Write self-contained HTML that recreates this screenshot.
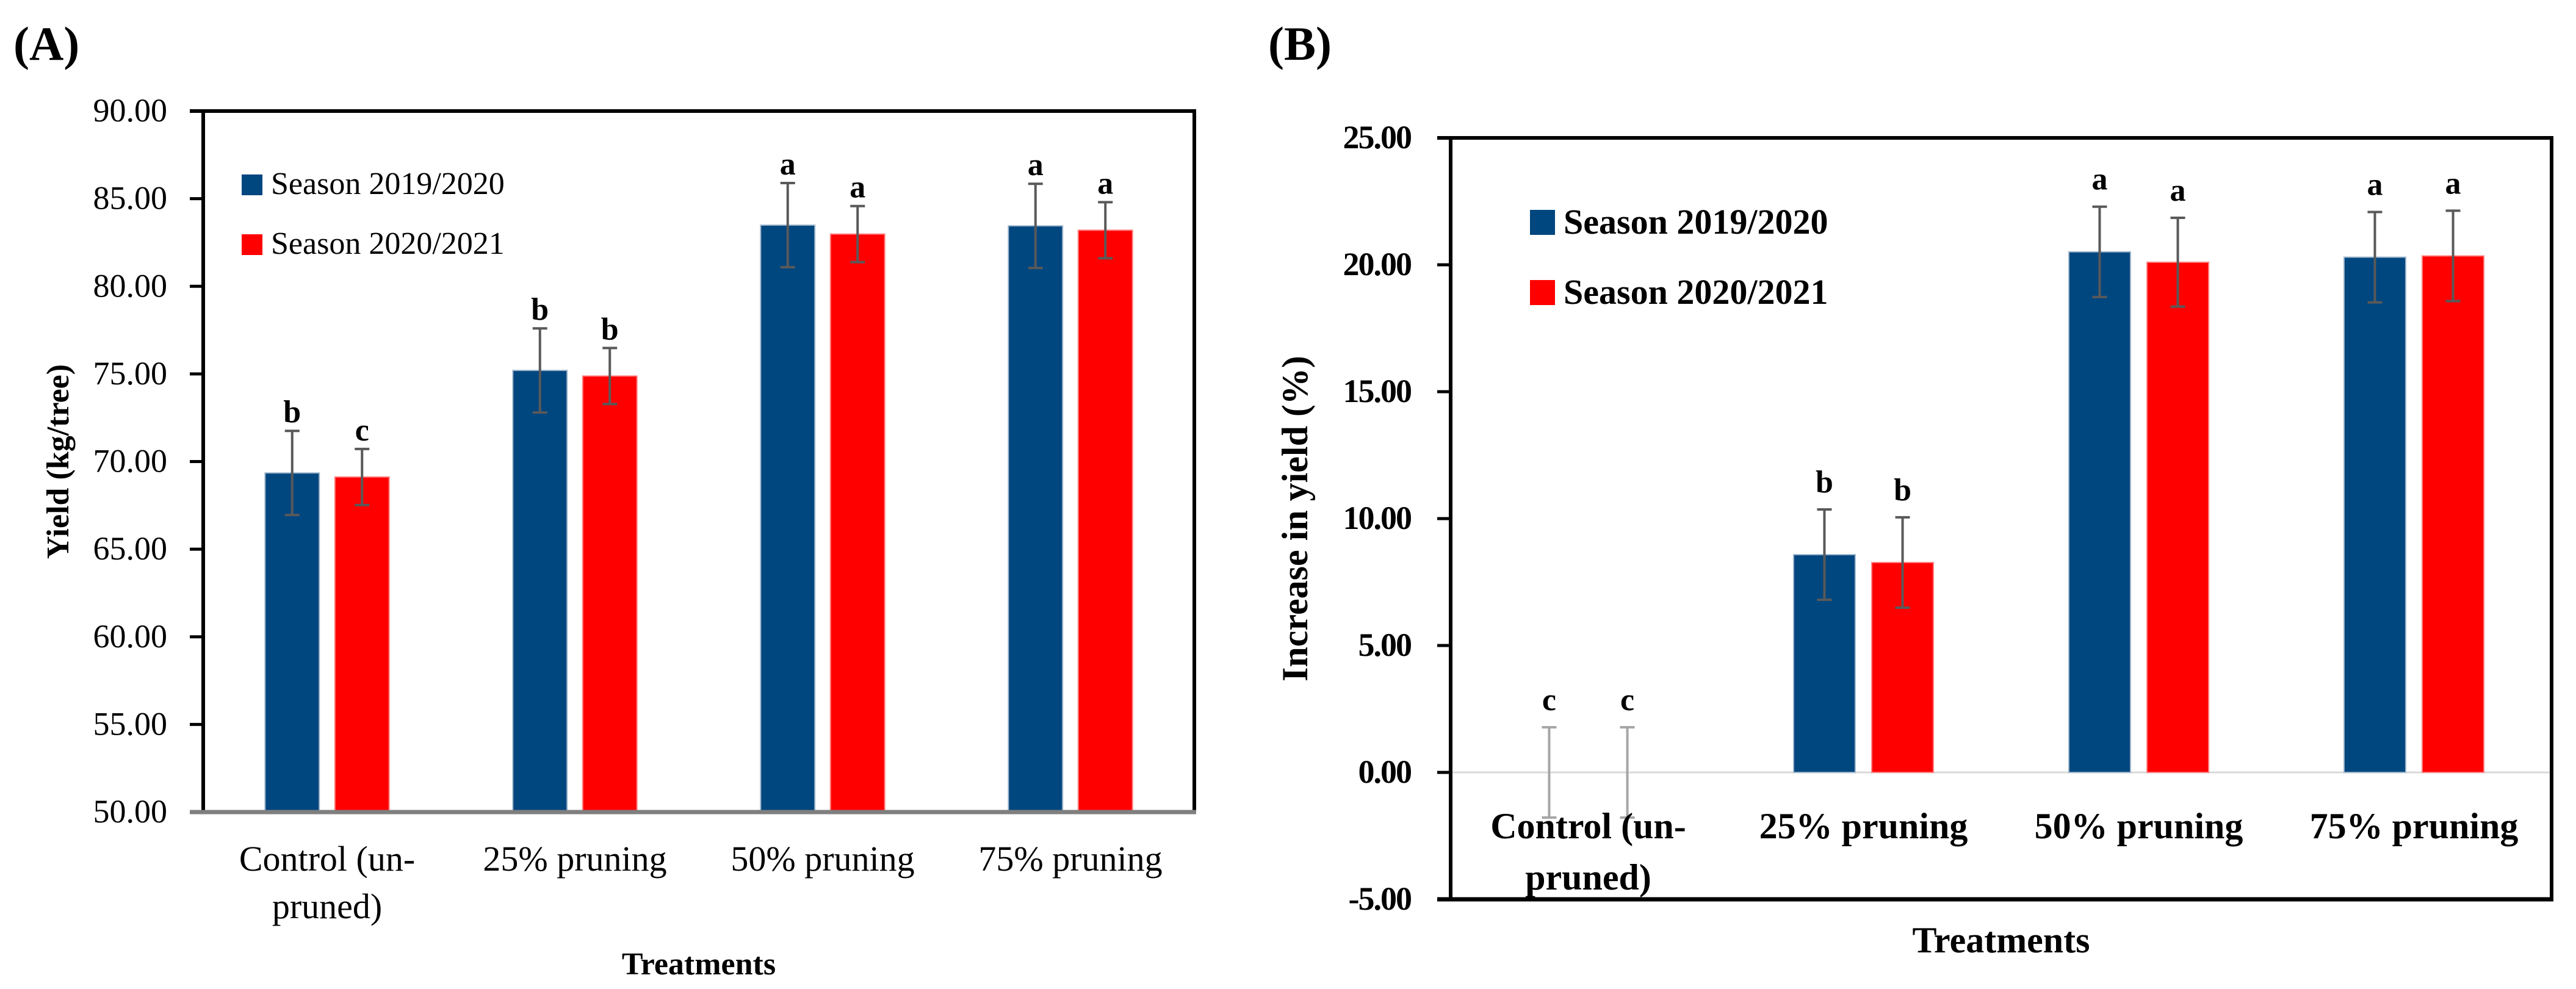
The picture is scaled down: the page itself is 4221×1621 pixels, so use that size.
<!DOCTYPE html>
<html><head><meta charset="utf-8"><style>
html,body{margin:0;padding:0;background:#fff;}
svg{display:block;font-family:"Liberation Serif",serif;}
</style></head><body>
<svg id="fig" width="4221" height="1621" viewBox="0 0 4221 1621" xmlns="http://www.w3.org/2000/svg">
<rect x="0" y="0" width="4221" height="1621" fill="#fff"/>
</svg>
<script>
const categories = ["Control (un-|pruned)", "25% pruning", "50% pruning", "75% pruning"];
const seriesNames = ["Season 2019/2020", "Season 2020/2021"];
const yieldS1 = [69.35, 75.2, 83.49, 83.45];
const yieldS2 = [69.12, 74.88, 82.98, 83.2];
const yieldErrS1 = [2.4, 2.4, 2.4, 2.4];
const yieldErrS2 = [1.6, 1.6, 1.6, 1.6];
const yieldLettersS1 = ["b", "b", "a", "a"];
const yieldLettersS2 = ["c", "b", "a", "a"];
const yieldTicks = [50, 55, 60, 65, 70, 75, 80, 85, 90];
const incS1 = [0, 8.58, 20.51, 20.3];
const incS2 = [0, 8.27, 20.1, 20.35];
const incErrS1 = [1.78, 1.78, 1.78, 1.78];
const incErrS2 = [1.78, 1.78, 1.75, 1.78];
const incLettersS1 = ["c", "b", "a", "a"];
const incLettersS2 = ["c", "b", "a", "a"];
const incTicks = [-5, 0, 5, 10, 15, 20, 25];

const NS = "http://www.w3.org/2000/svg";
const svg = document.getElementById("fig");
function mk(tag, attrs, parent, text) {
  const e = document.createElementNS(NS, tag);
  for (const k in attrs) e.setAttribute(k, attrs[k]);
  if (text !== undefined) e.textContent = text;
  (parent || svg).appendChild(e);
  return e;
}
const COLORS = ["#00467F", "#FF0000"];

function drawChart(cfg) {
  const g = mk("g", {});
  
  
  const {x0, x1, y0, y1, vmin, vmax} = cfg;
  const yScale = v => y1 - (v - vmin) / (vmax - vmin) * (y1 - y0);
  const cw = (x1 - x0) / categories.length;
  const xCenter = i => x0 + cw * (i + 0.5);
  const pl = mk("text", {x: cfg.labelX, y: 98, "font-size": 78, "font-weight": "bold"}, g, cfg.panel);
  
  
  if (cfg.zeroLine) {
    const zl = mk("line", {x1: x0, x2: x1, y1: yScale(0), y2: yScale(0), stroke: "#d9d9d9", "stroke-width": 3}, g);
    
    
  }
  cfg.ticks.forEach(t => {
    const y = yScale(t);
    const tk = mk("line", {x1: x0 - 22, x2: x0, y1: y, y2: y, stroke: "#000", "stroke-width": 5}, g);
    
    
    const tl = mk("text", {x: cfg.tickLabelX, y: y + 17, "text-anchor": "end", "font-size": cfg.tickFont, "font-weight": cfg.tickWeight, "letter-spacing": cfg.tickLS}, g, t.toFixed(2));
    
    
  });
  const series = [cfg.s1, cfg.s2], errs = [cfg.e1, cfg.e2], letters = [cfg.l1, cfg.l2];
  const bw = cw * cfg.barFrac, off = cw * cfg.offFrac;
  categories.forEach((c, i) => {
    for (let s = 0; s < 2; s++) {
      const cx = xCenter(i) + (s === 0 ? -off : off);
      const v = series[s][i];
      const yt = yScale(Math.max(v, cfg.base)), yb = yScale(Math.min(v, cfg.base));
      if (yb - yt > 0.5) {
        const b = mk("rect", {x: cx - bw / 2, y: yt, width: bw, height: yb - yt, fill: COLORS[s], stroke: s === 0 ? "#9fb6cc" : "#ff8080", "stroke-width": 2}, g);
        
        
      }
      const eTop = yScale(v + errs[s][i]), eBot = yScale(v - errs[s][i]);
      const eb = mk("path", {d: `M${cx},${eTop}V${eBot}M${cx - 12},${eTop}H${cx + 12}M${cx - 12},${eBot}H${cx + 12}`, stroke: cfg.zeroLine && v === 0 ? "#a6a6a6" : "#595959", "stroke-width": 4, fill: "none"}, g);
      
      
      const lt = mk("text", {x: cx, y: eTop - cfg.letterGap, "text-anchor": "middle", "font-size": 52, "font-weight": "bold"}, g, letters[s][i]);
      
      
    }
    const parts = c.split("|");
    parts.forEach((p, k) => {
      const cl = mk("text", {x: xCenter(i), y: cfg.catY + k * cfg.catLine, "text-anchor": "middle", "font-size": cfg.catFont, "font-weight": cfg.catWeight}, g, p);
      
      
    });
  });
  const fr = mk("path", {d: `M${x0},${y1}V${y0}H${x1}V${y1}`, stroke: "#000", "stroke-width": 6, fill: "none"}, g);
  
  
  const top = mk("line", {x1: x0 - 22, x2: x0, y1: y0, y2: y0, stroke: "#000", "stroke-width": 6}, g);
  
  
  const bt = mk("line", {x1: x0 - 22, x2: x1 + 3, y1: y1, y2: y1, stroke: cfg.bottomColor, "stroke-width": 7}, g);
  
  
  for (let s = 0; s < 2; s++) {
    const ly = cfg.legY + s * cfg.legGap;
    const sq = mk("rect", {x: cfg.legX, y: ly, width: cfg.legSq, height: cfg.legSq, fill: COLORS[s]}, g);
    
    
    const lt = mk("text", {x: cfg.legX + cfg.legSq + 14, y: ly + cfg.legSq - 2, "font-size": cfg.legFont, "font-weight": cfg.legWeight}, g, seriesNames[s]);
    
    
  }
  const xt = mk("text", {x: (x0 + x1) / 2, y: cfg.xTitleY, "text-anchor": "middle", "font-size": cfg.titleFont, "font-weight": "bold"}, g, "Treatments");
  
  
  const ym = (y0 + y1) / 2;
  const yt = mk("text", {x: cfg.yTitleX, y: ym, "text-anchor": "middle", "font-size": cfg.titleFont, "font-weight": "bold", transform: `rotate(-90 ${cfg.yTitleX} ${ym})`}, g, cfg.yTitle);
  
  
}

drawChart({name: "chart-a-yield", panel: "(A)", labelX: 22, x0: 333, x1: 1957, y0: 182, y1: 1331, vmin: 50, vmax: 90, base: 50,
  ticks: yieldTicks, tickLabelX: 274, tickFont: 54, tickWeight: "normal", tickLS: 0,
  s1: yieldS1, s2: yieldS2, e1: yieldErrS1, e2: yieldErrS2, l1: yieldLettersS1, l2: yieldLettersS2,
  barFrac: 0.219, offFrac: 0.141, letterGap: 14, zeroLine: false, bottomColor: "#7f7f7f",
  catY: 1427, catLine: 78, catFont: 58, catWeight: "normal",
  legX: 396, legY: 286, legGap: 98, legSq: 34, legFont: 52, legWeight: "normal",
  xTitleY: 1597, yTitleX: 112, titleFont: 52, yTitle: "Yield (kg/tree)"});

drawChart({name: "chart-b-increase", panel: "(B)", labelX: 2078, x0: 2377, x1: 4181, y0: 226, y1: 1474, vmin: -5, vmax: 25, base: 0,
  ticks: incTicks, tickLabelX: 2312, tickFont: 54, tickWeight: "bold", tickLS: -2,
  s1: incS1, s2: incS2, e1: incErrS1, e2: incErrS2, l1: incLettersS1, l2: incLettersS2,
  barFrac: 0.224, offFrac: 0.142, letterGap: 28, zeroLine: true, bottomColor: "#000",
  catY: 1374, catLine: 84, catFont: 60, catWeight: "bold",
  legX: 2507, legY: 344, legGap: 115, legSq: 41, legFont: 58, legWeight: "bold",
  xTitleY: 1561, yTitleX: 2142, titleFont: 60, yTitle: "Increase in yield (%)"});
</script>
</body></html>
